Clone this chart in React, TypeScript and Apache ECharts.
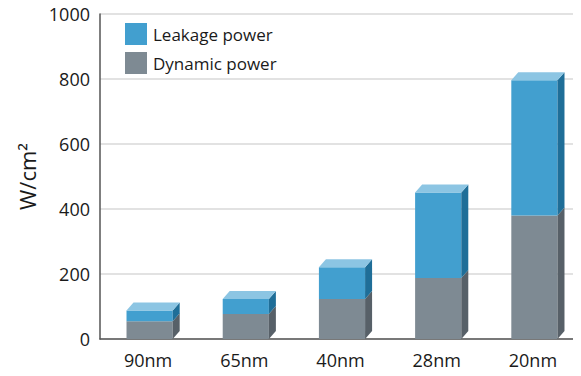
import React, { useEffect, useRef } from "react";
import * as echarts from "echarts";

const categories = ["90nm", "65nm", "40nm", "28nm", "20nm"];
const dynamicPower = [55, 77, 123, 188, 380];
const leakagePower = [33, 46, 98, 263, 416];
const yTicks = [0, 200, 400, 600, 800, 1000];

const FONT = "'Open Sans', 'Noto Sans', sans-serif";

function makeRender(front: string, side: string, top: string | null) {
  return (params: any, api: any) => {
    const i = api.value(0);
    const base = api.value(1);
    const topV = api.value(2);
    const pTop = api.coord([i, topV]);
    const pBot = api.coord([i, base]);
    const band = api.size([1, 0])[0];
    const w = band * 0.48;
    const dx = 7;
    const dy = 8;
    const x0 = pTop[0] - w / 2 + 1.5;
    const x1 = x0 + w;
    const yT = pTop[1];
    const yB = pBot[1];
    const children: any[] = [
      {
        type: "polygon",
        shape: { points: [[x0, yT], [x1, yT], [x1, yB], [x0, yB]] },
        style: { fill: front },
      },
      {
        type: "polygon",
        shape: { points: [[x1, yT], [x1 + dx, yT - dy], [x1 + dx, yB - dy], [x1, yB]] },
        style: { fill: side },
      },
    ];
    if (top) {
      children.push({
        type: "polygon",
        shape: { points: [[x0, yT], [x0 + dx, yT - dy], [x1 + dx, yT - dy], [x1, yT]] },
        style: { fill: top },
      });
    }
    return { type: "group", children };
  };
}

export default function App() {
  const ref = useRef<HTMLDivElement>(null);
  useEffect(() => {
    if (!ref.current) return;
    const chart = echarts.init(ref.current, undefined, { renderer: "svg" });
    const dynData = categories.map((_, i) => [i, 0, dynamicPower[i]]);
    const leakData = categories.map((_, i) => [
      i,
      dynamicPower[i],
      dynamicPower[i] + leakagePower[i],
    ]);
    chart.setOption({
      animation: false,
      backgroundColor: "#ffffff",
      grid: { left: 100, right: 0, top: 14, bottom: 37, containLabel: false },
      legend: {
        orient: "vertical",
        left: 125,
        top: 23,
        padding: 0,
        itemWidth: 22,
        itemHeight: 22,
        itemGap: 7,
        icon: "rect",
        selectedMode: false,
        textStyle: { fontSize: 17, color: "#1a1a1a", fontFamily: FONT, padding: [0, 0, 0, 1] },
        data: [
          { name: "Leakage power", itemStyle: { color: "#429fcf" } },
          { name: "Dynamic power", itemStyle: { color: "#7e8a93" } },
        ],
      },
      xAxis: {
        type: "category",
        data: categories,
        axisLine: { lineStyle: { color: "#555", width: 1.5 } },
        axisTick: { alignWithLabel: true, length: 6, lineStyle: { color: "#555", width: 1.5 } },
        axisLabel: { fontSize: 18, color: "#1a1a1a", fontFamily: FONT, margin: 12 },
      },
      yAxis: {
        type: "value",
        min: yTicks[0],
        max: yTicks[yTicks.length - 1],
        interval: 200,
        name: "W/cm²",
        nameLocation: "middle",
        nameGap: 58,
        nameRotate: 90,
        nameTextStyle: {
          fontSize: 22,
          color: "#1a1a1a",
          fontFamily: FONT,
        },
        axisLine: { show: true, lineStyle: { color: "#555", width: 1.5 } },
        axisTick: { show: false },
        axisLabel: {
          fontSize: 18,
          color: "#1a1a1a",
          fontFamily: FONT,
          margin: 10,
          formatter: (v: number) => String(v),
        },
        splitLine: { lineStyle: { color: "#d9d9d9", width: 1.5 } },
      },
      series: [
        {
          name: "Dynamic power",
          type: "custom",
          itemStyle: { color: "#7e8a93" },
          encode: { x: 0, y: [1, 2] },
          renderItem: makeRender("#7e8a93", "#576068", null),
          data: dynData,
          z: 2,
        },
        {
          name: "Leakage power",
          type: "custom",
          itemStyle: { color: "#429fcf" },
          encode: { x: 0, y: [1, 2] },
          renderItem: makeRender("#429fcf", "#1f6e98", "#8cc5e3"),
          data: leakData,
          z: 3,
        },
      ],
    });
    return () => chart.dispose();
  }, []);
  return <div ref={ref} style={{ width: 581, height: 376, marginLeft: -8, marginTop: -8 }} />;
}
